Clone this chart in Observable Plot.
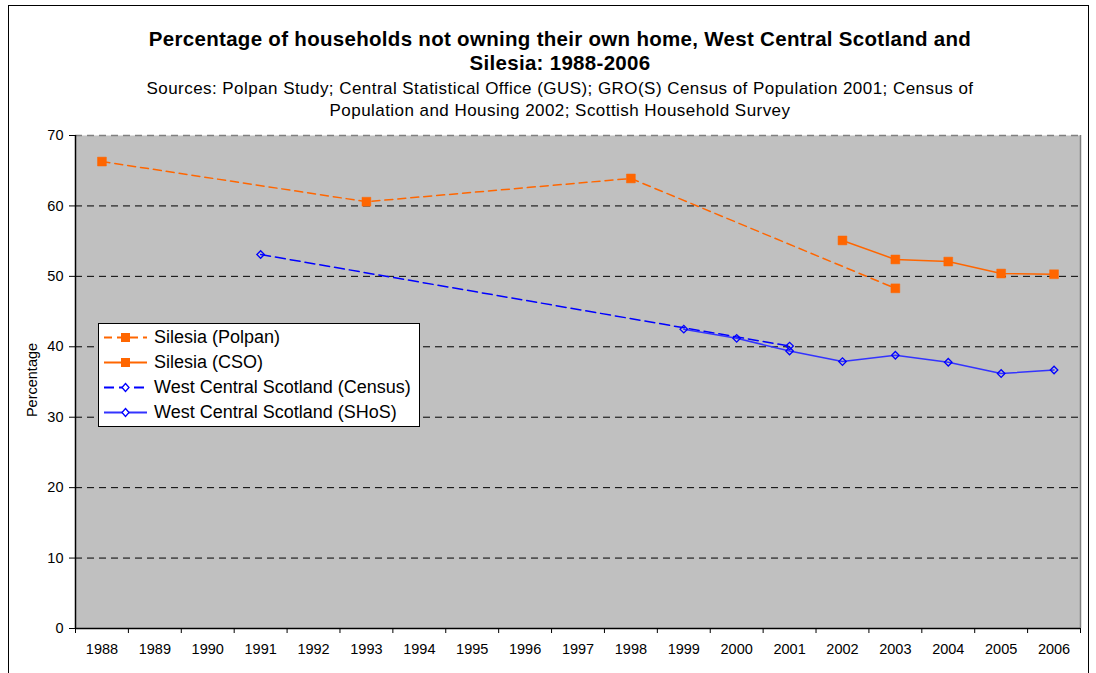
<!DOCTYPE html>
<html>
<head>
<meta charset="utf-8">
<script src="https://cdn.jsdelivr.net/npm/d3@7"></script>
<script src="https://cdn.jsdelivr.net/npm/@observablehq/plot@0.6"></script>
<style>
  html, body { margin: 0; padding: 0; background: #fff; }
  body { width: 1096px; height: 673px; overflow: hidden; position: relative; font-family: "Liberation Sans", Arial, sans-serif; }
  #frame { position: absolute; left: 8px; top: 5px; width: 1081px; height: 700px; border: 1px solid #000; box-sizing: border-box; }
  #title { position: absolute; left: 0; top: 27px; width: 1120px; text-align: center; font-weight: bold; font-size: 20.5px; letter-spacing: 0.3px; line-height: 24px; color: #000; }
  #subtitle { position: absolute; left: 0; top: 78px; width: 1120px; text-align: center; font-size: 17px; letter-spacing: 0.45px; line-height: 22px; color: #000; }
  #chart { position: absolute; left: 0; top: 125px; }
  #ylabel { position: absolute; left: 32px; top: 380px; transform: translate(-50%, -50%) rotate(-90deg); font-size: 14.5px; white-space: nowrap; }
  #legend { position: absolute; left: 98px; top: 323px; width: 322px; height: 104px; background: #fff; border: 1px solid #000; box-sizing: border-box; padding-top: 1px; }
  .item { height: 25px; display: flex; align-items: center; font-size: 18px; color: #000; }
  .item svg { margin-left: 5px; margin-right: 7px; }
</style>
</head>
<body>
<div id="frame"></div>
<div id="title">Percentage of households not owning their own home, West Central Scotland and<br>Silesia: 1988-2006</div>
<div id="subtitle">Sources: Polpan Study; Central Statistical Office (GUS); GRO(S) Census of Population 2001; Census of<br>Population and Housing 2002; Scottish Household Survey</div>
<div id="chart"></div>
<div id="ylabel">Percentage</div>
<div id="legend"></div>
<script>
const years = [1988,1989,1990,1991,1992,1993,1994,1995,1996,1997,1998,1999,2000,2001,2002,2003,2004,2005,2006];
const yTicks = [0,10,20,30,40,50,60,70];

const polpanYears = [1988, 1993, 1998, 2003];
const polpanValues = [66.3, 60.6, 63.9, 48.3];

const csoYears = [2002, 2003, 2004, 2005, 2006];
const csoValues = [55.1, 52.4, 52.1, 50.4, 50.3];

const censusYears = [1991, 2001];
const censusValues = [53.1, 40.1];

const shosYears = [1999, 2000, 2001, 2002, 2003, 2004, 2005, 2006];
const shosValues = [42.5, 41.2, 39.4, 37.9, 38.8, 37.8, 36.2, 36.7];

const seriesNames = ["Silesia (Polpan)", "Silesia (CSO)", "West Central Scotland (Census)", "West Central Scotland (SHoS)"];

const ORANGE = "#FF6600";
const BLUE = "#0000FF";
const BLUE2 = "#3333FF";

const toRows = (xs, vs) => xs.map((x, i) => ({year: x, value: vs[i]}));
const polpan = toRows(polpanYears, polpanValues);
const cso = toRows(csoYears, csoValues);
const census = toRows(censusYears, censusValues);
const shos = toRows(shosYears, shosValues);

const halfSteps = [years[0] - 0.5, ...years.map(y => y + 0.5)];
const xMin = years[0] - 0.5, xMax = years[years.length - 1] + 0.5;
const yMax = yTicks[yTicks.length - 1];

const chart = Plot.plot({
  width: 1096,
  height: 543,
  marginLeft: 75,
  marginRight: 16,
  marginTop: 10,
  marginBottom: 40,
  style: {fontFamily: "'Liberation Sans', Arial, sans-serif", background: "transparent"},
  x: {domain: [xMin, xMax], label: null},
  y: {domain: [0, yMax], label: null},
  marks: [
    Plot.frame({fill: "#C0C0C0", stroke: null}),
    Plot.ruleY(yTicks.filter(t => t > 0 && t < yMax), {stroke: "#000", strokeWidth: 1, strokeDasharray: "7,5"}),
    Plot.ruleY([yMax], {stroke: "#808080", strokeWidth: 1.5, strokeDasharray: "7,5"}),
    Plot.ruleX([xMax], {stroke: "#808080", strokeWidth: 1.5}),
    Plot.ruleX([xMin], {stroke: "#000", strokeWidth: 1.5}),
    Plot.ruleY([0], {stroke: "#000", strokeWidth: 1.5}),
    Plot.axisY(yTicks, {tickSize: 6, tickPadding: 6, fontSize: 14.5, label: null, stroke: "#000", color: "#000"}),
    Plot.axisX(years, {tickSize: 0, tickPadding: 15, fontSize: 14.5, tickFormat: d => String(d), label: null, color: "#000"}),
    Plot.axisX(halfSteps, {tickSize: 5, tickFormat: () => "", label: null, stroke: "#000"}),
    // Silesia Polpan
    Plot.line(polpan, {x: "year", y: "value", stroke: ORANGE, strokeWidth: 1.5, strokeDasharray: "8,5"}),
    Plot.dot(polpan, {x: "year", y: "value", symbol: "square", r: 5, fill: ORANGE, stroke: ORANGE, strokeWidth: 0.5}),
    // Silesia CSO
    Plot.line(cso, {x: "year", y: "value", stroke: ORANGE, strokeWidth: 1.5}),
    Plot.dot(cso, {x: "year", y: "value", symbol: "square", r: 5, fill: ORANGE, stroke: ORANGE, strokeWidth: 0.5}),
    // WCS Census
    Plot.line(census, {x: "year", y: "value", stroke: BLUE, strokeWidth: 1.5, strokeDasharray: "10,5"}),
    Plot.dot(census, {x: "year", y: "value", symbol: "square", rotate: 45, r: 3, fill: "none", stroke: BLUE, strokeWidth: 1.3}),
    // WCS SHoS
    Plot.line(shos, {x: "year", y: "value", stroke: BLUE2, strokeWidth: 1.5}),
    Plot.dot(shos, {x: "year", y: "value", symbol: "square", rotate: 45, r: 3, fill: "none", stroke: BLUE, strokeWidth: 1.3})
  ]
});
document.getElementById("chart").appendChild(chart);

// Legend
const legendSpecs = [
  {color: ORANGE, dash: "8,5", marker: "square"},
  {color: ORANGE, dash: null, marker: "square"},
  {color: BLUE, dash: "10,5", marker: "diamond"},
  {color: BLUE2, dash: null, marker: "diamond"}
];
const legend = document.getElementById("legend");
seriesNames.forEach((name, i) => {
  const s = legendSpecs[i];
  const div = document.createElement("div");
  div.className = "item";
  const marker = s.marker === "square"
    ? `<rect x="17" y="5" width="9" height="9" fill="${s.color}"/>`
    : `<path d="M21.5,5.5 L25,9.5 L21.5,13.5 L18,9.5 Z" fill="#fff" stroke="${BLUE}" stroke-width="1.3"/>`;
  div.innerHTML = `<svg width="43" height="19"><line x1="0" x2="43" y1="9.5" y2="9.5" stroke="${s.color}" stroke-width="2" ${s.dash ? `stroke-dasharray="${s.dash}"` : ""}/>${marker}</svg><span>${name}</span>`;
  legend.appendChild(div);
});
</script>
</body>
</html>
